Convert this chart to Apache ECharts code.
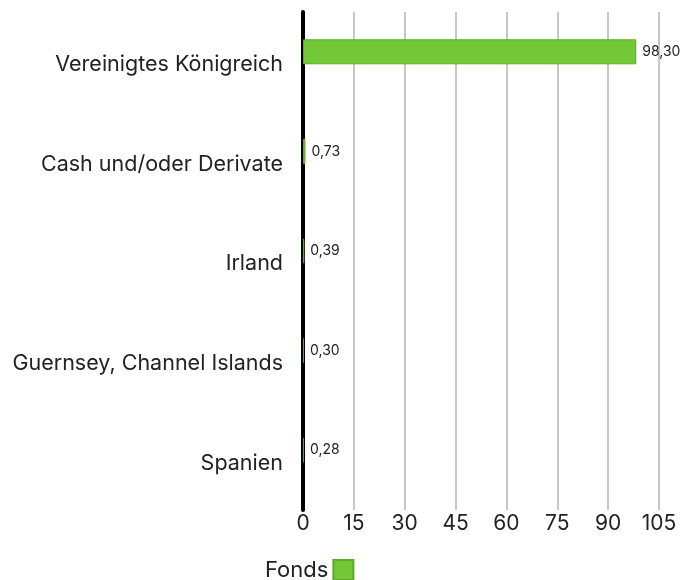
<!DOCTYPE html>
<html style="height: 100%">
<head>
  <meta charset="utf-8">
  <title>Fonds nach Ländern</title>
  <script src="https://cdn.jsdelivr.net/npm/echarts@6/dist/echarts.min.js"></script>
</head>
<body style="height: 100%; margin: 0; background: #fff">
  <div id="main" style="width: 681px; height: 580px;"></div>
  <script type="text/javascript">
    var countries = ['Vereinigtes Königreich', 'Cash und/oder Derivate', 'Irland', 'Guernsey, Channel Islands', 'Spanien'];
    var fondsValues = [98.30, 0.73, 0.39, 0.30, 0.28];
    var xTicks = [0, 15, 30, 45, 60, 75, 90, 105];

    var font = 'Inter';
    var myChart = echarts.init(document.getElementById('main'));

    var option = {
      animation: false,
      textStyle: { fontFamily: font },
      grid: { left: 303, right: 22, top: 12, bottom: 70 },
      legend: {
        data: ['Fonds'],
        top: 559,
        left: 265,
        align: 'right',
        icon: 'rect',
        itemWidth: 20,
        itemHeight: 20,
        itemGap: 8,
        padding: 0,
        textStyle: { fontFamily: font, fontSize: 22, color: '#222' }
      },
      xAxis: {
        type: 'value',
        min: xTicks[0],
        max: xTicks[xTicks.length - 1],
        interval: 15,
        axisLine: { show: false },
        axisTick: { show: false },
        axisLabel: { fontFamily: font, fontSize: 21, color: '#222', margin: 3 },
        splitLine: { lineStyle: { color: '#c6c6c6', width: 2 } }
      },
      yAxis: {
        type: 'category',
        inverse: true,
        data: countries,
        axisLine: { lineStyle: { color: '#000', width: 4 } },
        axisTick: { show: false },
        axisLabel: { fontFamily: font, fontSize: 21.5, color: '#222', margin: 20, verticalAlign: 'top', lineHeight: 6 }
      },
      series: [
        {
          name: 'Fonds',
          type: 'bar',
          data: fondsValues,
          barWidth: 25,
          barGap: '-20%',
          itemStyle: { color: '#72c935', borderColor: '#5ea82b', borderWidth: 1 },
          label: {
            show: true,
            position: 'right',
            distance: 6,
            fontFamily: font,
            fontSize: 14,
            color: '#222',
            formatter: function (p) { return p.value.toFixed(2).replace('.', ','); }
          }
        },
        {
          name: 'spacer',
          type: 'bar',
          barWidth: 25,
          data: countries.map(function () { return '-'; }),
          silent: true
        }
      ]
    };
    myChart.setOption(option);
  </script>
</body>
</html>
